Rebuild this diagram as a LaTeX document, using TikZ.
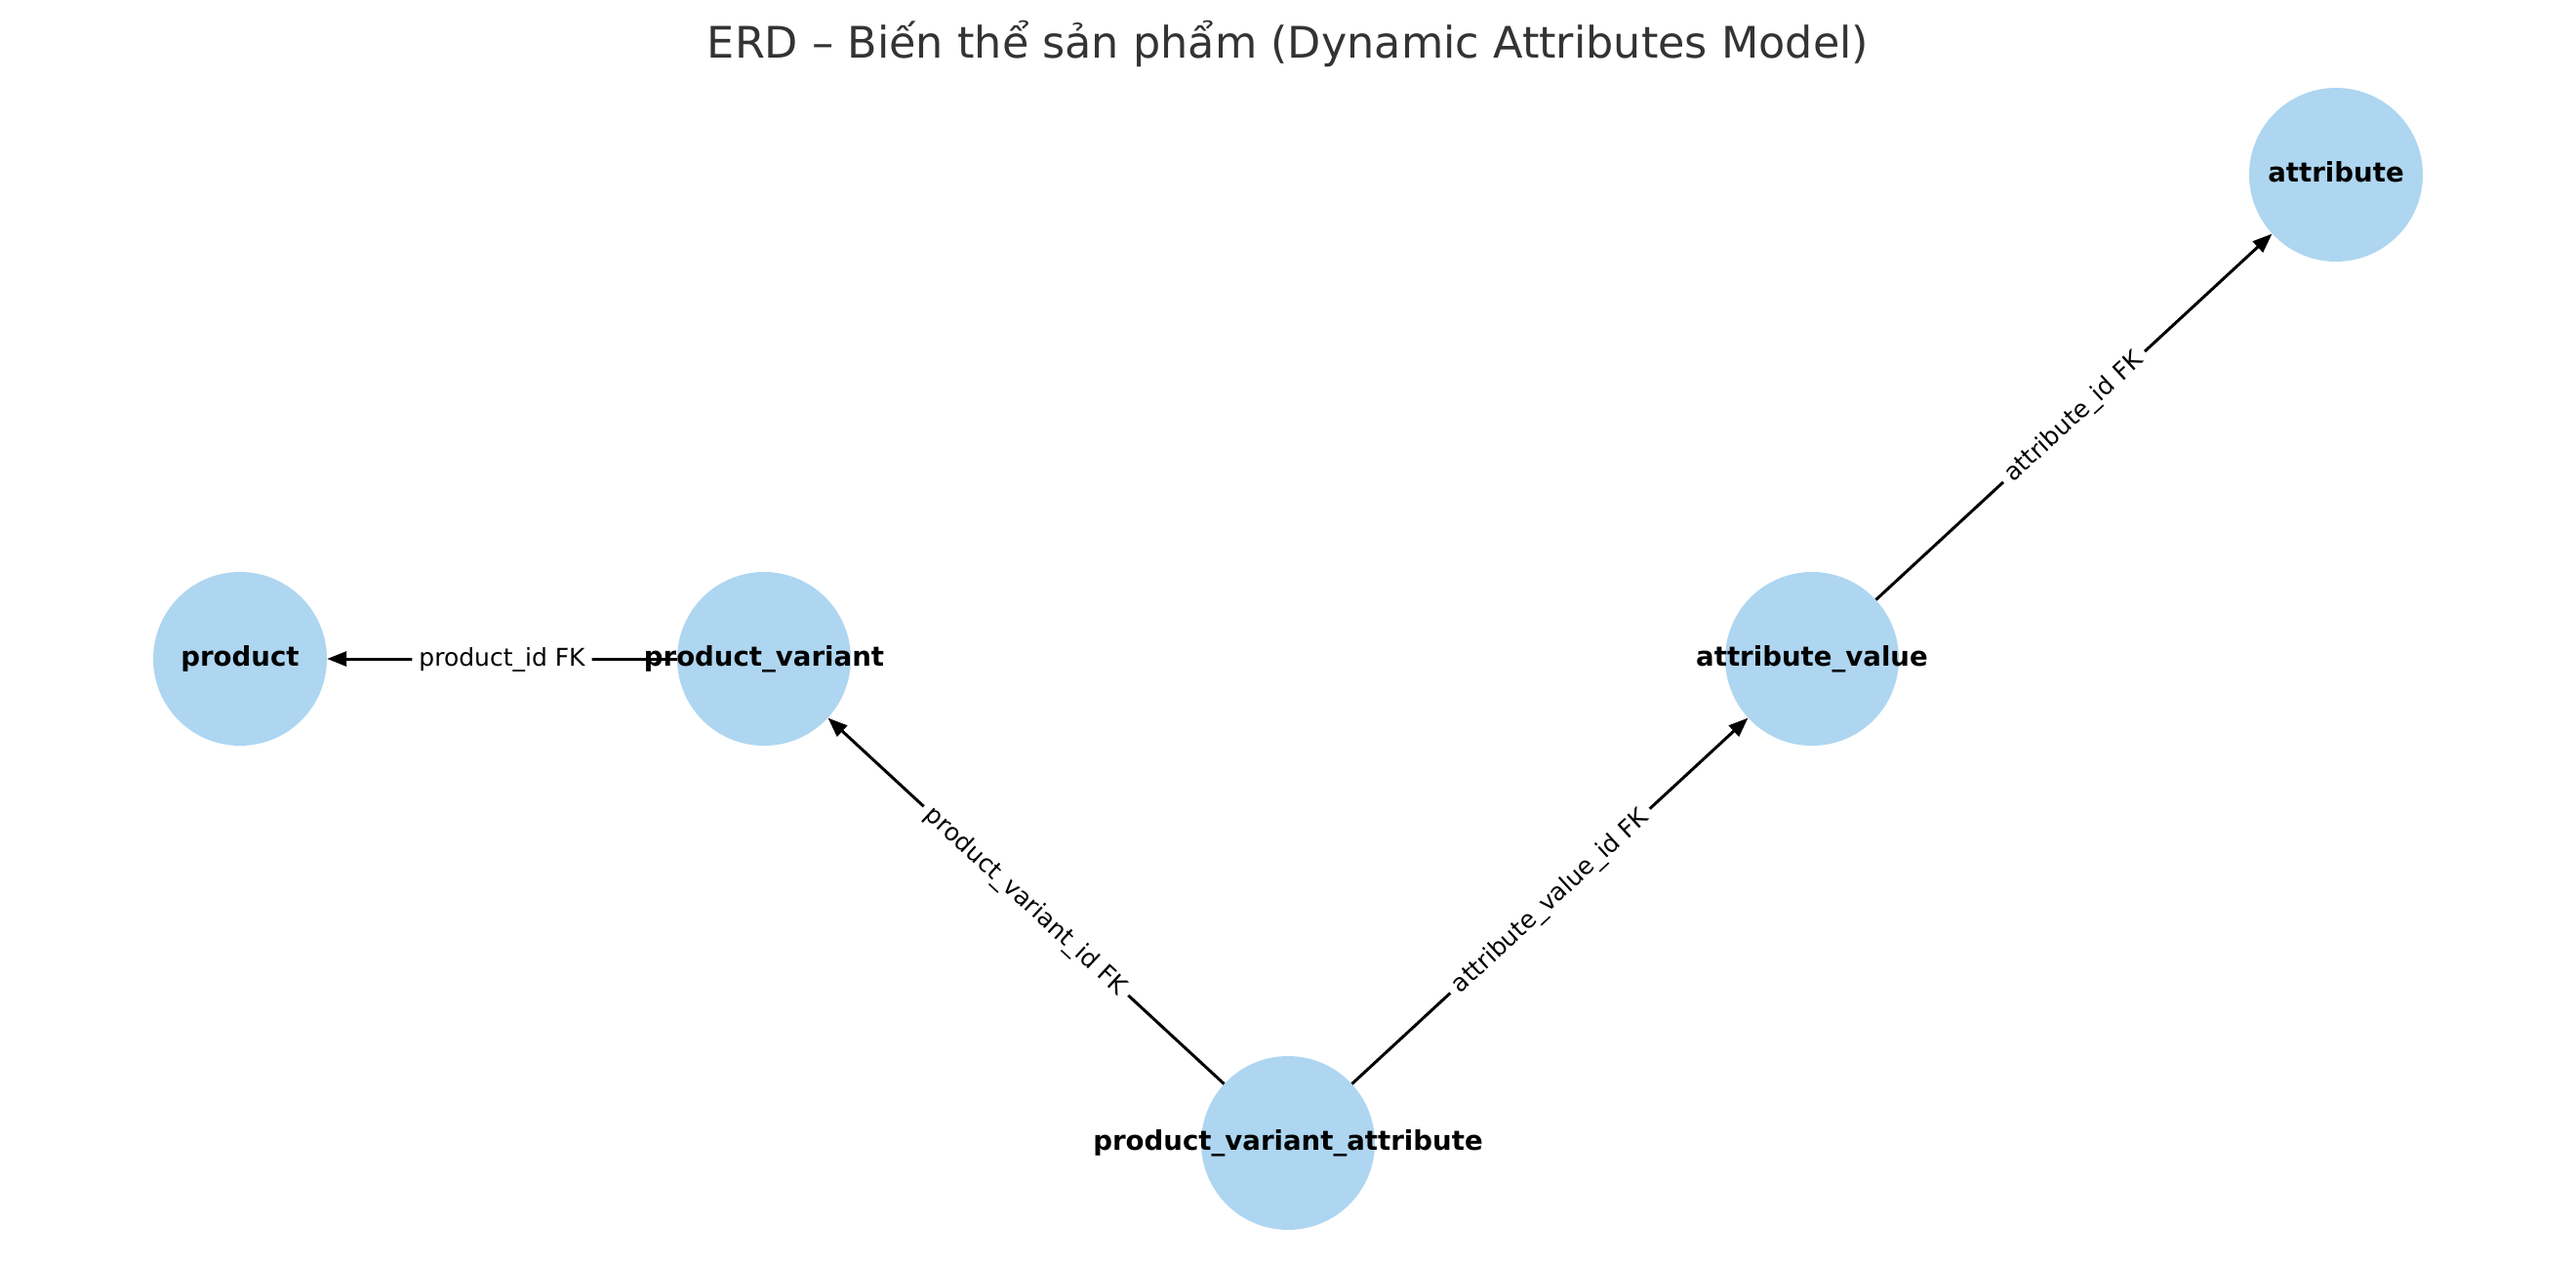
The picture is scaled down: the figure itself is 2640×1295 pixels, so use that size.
\documentclass[tikz,border=0pt]{standalone}
\usepackage{fontspec}
\setmainfont{DejaVu Sans}
\usetikzlibrary{arrows.meta}
\definecolor{nodefill}{HTML}{AED6F1}
\definecolor{titlegray}{HTML}{333333}
\begin{document}
\begin{tikzpicture}[x=1pt,y=-1pt,
  entity/.style={circle,fill=nodefill,minimum size=178pt,inner sep=0pt},
  entlabel/.style={font=\bfseries\fontsize{27.6}{31}\selectfont,text height=19.5pt,text depth=5pt,inner sep=0pt},
  fk/.style={draw=black,line width=3pt,-{Triangle[length=20pt,width=15pt]}},
  fklabel/.style={font=\fontsize{25}{30}\selectfont,fill=white,text height=20.4pt,text depth=5pt,inner xsep=7pt,inner ysep=3pt,rounded corners=6pt,sloped,midway}]
\useasboundingbox (0,0) rectangle (2640,1295);
\node[font=\fontsize{44.5}{53}\selectfont,text=titlegray,anchor=base] (title) at (1320,59.5) {ERD – Biến thể sản phẩm (Dynamic Attributes Model)};
% entities
\node[entity] (p) at (246,675) {};
\node[entity] (pv) at (783,675) {};
\node[entity] (av) at (1857,675) {};
\node[entity] (a) at (2394,179) {};
\node[entity] (pva) at (1320,1171) {};
% relations
\draw[fk] (pv) -- node[fklabel] (l1) {product\_id FK} (p);
\draw[fk] (pva) -- node[fklabel] (l2) {product\_variant\_id FK} (pv);
\draw[fk] (pva) -- node[fklabel] (l3) {attribute\_value\_id FK} (av);
\draw[fk] (av) -- node[fklabel] (l4) {attribute\_id FK} (a);
% labels
\node[entlabel] (pt) at (p) {product};
\node[entlabel] (pvt) at (pv) {product\_variant};
\node[entlabel] (avt) at (av) {attribute\_value};
\node[entlabel] (at) at (a) {attribute};
\node[entlabel] (pvat) at (pva) {product\_variant\_attribute};
\end{tikzpicture}
\end{document}
